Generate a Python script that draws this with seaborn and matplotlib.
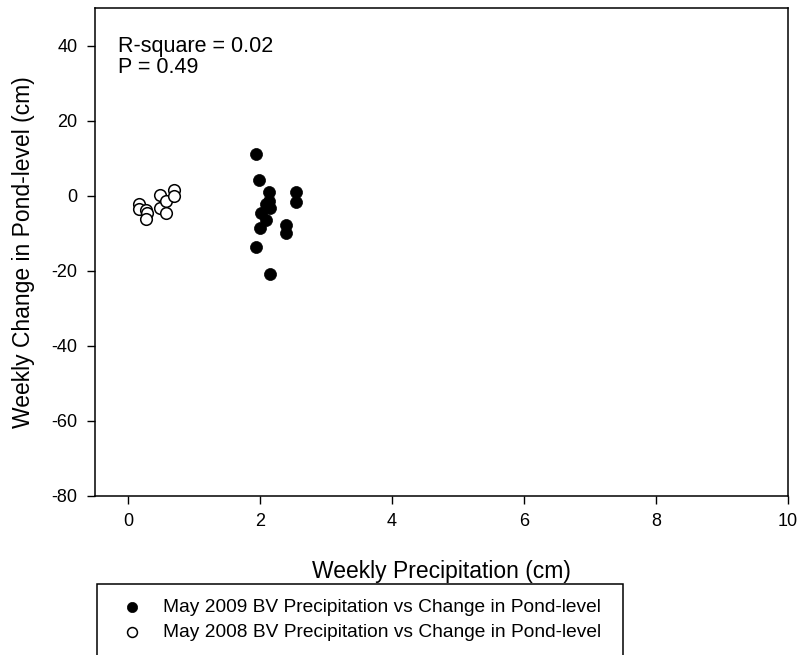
import matplotlib
matplotlib.use("Agg")
import matplotlib.pyplot as plt
from matplotlib.patches import Rectangle
import seaborn as sns
import pandas as pd

# Weekly precipitation (cm) and weekly change in pond level (cm), May 2009
precip_2009 = [1.94, 1.99, 2.14, 2.14, 2.09, 2.15, 2.01, 2.09, 2.00, 1.94, 2.15,
               2.55, 2.55, 2.39, 2.39]
change_2009 = [11.0, 4.1, 0.9, -1.5, -2.1, -3.2, -4.7, -6.5, -8.7, -13.8, -20.9,
               0.9, -1.6, -7.8, -9.9]

# Same measures, May 2008
precip_2008 = [0.16, 0.17, 0.28, 0.29, 0.28, 0.48, 0.49, 0.58, 0.58, 0.69, 0.70]
change_2008 = [-2.3, -3.6, -3.9, -4.7, -6.3, 0.1, -3.3, -1.5, -4.7, 1.5, -0.1]

label_2009 = "May 2009 BV Precipitation vs Change in Pond-level"
label_2008 = "May 2008 BV Precipitation vs Change in Pond-level"

x_ticks = [0, 2, 4, 6, 8, 10]
y_ticks = [-80, -60, -40, -20, 0, 20, 40]
stats_lines = ["R-square = 0.02", "P = 0.49"]

df09 = pd.DataFrame({"precip": precip_2009, "change": change_2009})
df08 = pd.DataFrame({"precip": precip_2008, "change": change_2008})

sns.set_style("white")
plt.rcParams["font.family"] = ["Liberation Sans", "DejaVu Sans"]
plt.rcParams["axes.unicode_minus"] = False
plt.rcParams["text.color"] = "black"
plt.rcParams["axes.labelcolor"] = "black"

fig = plt.figure(figsize=(8.01, 6.55), dpi=100)
ax = fig.add_axes([95 / 801, 1 - 496 / 655, 693 / 801, 488 / 655])

sns.scatterplot(data=df09, x="precip", y="change", ax=ax, color="black",
                edgecolor="black", linewidth=0.5, s=75, label=label_2009,
                zorder=3)
sns.scatterplot(data=df08, x="precip", y="change", ax=ax, color="white",
                edgecolor="black", linewidth=1.1, s=70, label=label_2008,
                zorder=3)

ax.set_xlim(-0.5, 10)
ax.set_ylim(-80, 50)
ax.set_xticks(x_ticks)
ax.set_yticks(y_ticks)
ax.tick_params(axis="both", direction="out", length=5.5, width=1,
               color="black", labelsize=13, pad=7, labelcolor="black")
ax.tick_params(top=False, right=False, bottom=True, left=True)
for sp in ax.spines.values():
    sp.set_visible(True)
    sp.set_color("black")
    sp.set_linewidth(1.1)

ax.set_xlabel("Weekly Precipitation (cm)", fontsize=16.5, color="black")
ax.set_ylabel("Weekly Change in Pond-level (cm)", fontsize=16.5, color="black")
ax.xaxis.set_label_coords(0.5, -0.131)
ax.yaxis.set_label_coords(-0.087, 0.5)

# Regression summary in the upper-left corner
ax.text(0.033, 0.942, "\n".join(stats_lines), transform=ax.transAxes,
        fontsize=15.5, va="top", ha="left", color="black", linespacing=0.95)

handles, labels = ax.get_legend_handles_labels()
ax.get_legend().remove()
fig.legend(handles, labels, loc="upper left",
           bbox_to_anchor=(97 / 801, 1 - 584 / 655),
           bbox_transform=fig.transFigure, frameon=False, fontsize=13.8,
           borderpad=0.75, labelspacing=0.4, handlelength=2.1,
           handletextpad=0.6, markerscale=0.85, borderaxespad=0,
           labelcolor="black")

fig.add_artist(Rectangle((97 / 801, -0.05), 526 / 801, 0.05 + 1 - 584 / 655,
                         transform=fig.transFigure, fill=False,
                         edgecolor="black", linewidth=1.1))

fig.savefig("out.png", dpi=100)
